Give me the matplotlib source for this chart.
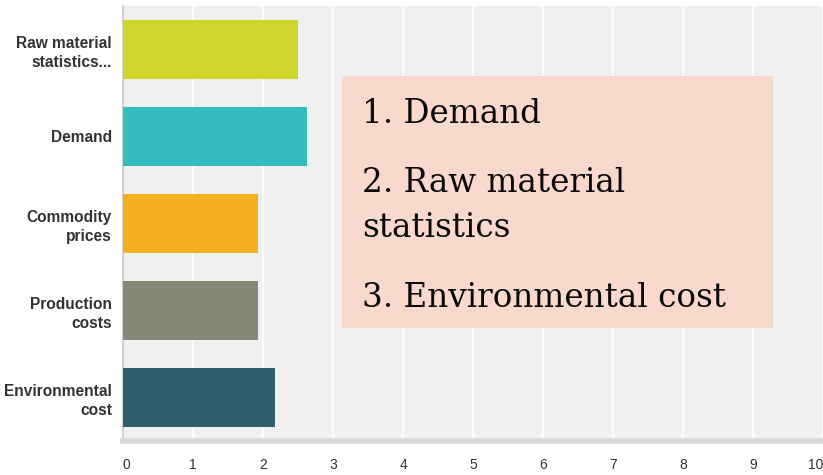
import matplotlib.pyplot as plt
from matplotlib.patches import Rectangle

categories = ["Raw material\nstatistics...", "Demand", "Commodity\nprices",
              "Production\ncosts", "Environmental\ncost"]
values = [2.50, 2.63, 1.93, 1.93, 2.17]
colors = ["#cfd629", "#33bdbf", "#f6ae21", "#878878", "#2f5d6b"]
x_ticks = list(range(0, 11))
ranking = ["1. Demand", "2. Raw material", "statistics", "3. Environmental cost"]

W, H = 823, 475
fig = plt.figure(figsize=(W / 100, H / 100), dpi=100)
ax = fig.add_axes([123 / W, 1 - 441 / H, 1 - 123 / W, (441 - 6) / H])
ax.set_facecolor("#f0f0f0")

ypos = list(range(len(categories)))
ax.barh(ypos, values, height=0.68, color=colors, zorder=3)
ax.set_ylim(len(categories) - 0.5, -0.5)
ax.set_xlim(0, 10)

ax.set_xticks(x_ticks)
xlabels = ax.set_xticklabels([str(t) for t in x_ticks], fontfamily="Liberation Sans",
                             fontsize=10, color="#333333")
xlabels[0].set_ha("left")
xlabels[-1].set_ha("right")
ax.set_yticks(ypos)
ax.set_yticklabels(categories, fontfamily="Liberation Sans", fontsize=11.2,
                   fontweight="bold", color="#333333", linespacing=1.3)
ax.tick_params(axis="x", length=0, pad=12)
ax.tick_params(axis="y", length=0, pad=8)
ax.grid(axis="x", color="white", linewidth=1.2, zorder=0)
ax.set_axisbelow(True)

for s in ["top", "right"]:
    ax.spines[s].set_visible(False)
ax.spines["left"].set_color("#c8c8c8")
ax.spines["left"].set_linewidth(1.2)
ax.spines["bottom"].set_color("#d9d9d9")
ax.spines["bottom"].set_linewidth(4)

# ranking summary box
box = Rectangle((342 / W, 1 - 328 / H), (773 - 342) / W, (328 - 76) / H,
                transform=fig.transFigure, facecolor="#f8d9cc", edgecolor="none",
                zorder=5)
fig.patches.append(box)
baselines = [123, 192, 237, 307]
for txt, yb in zip(ranking, baselines):
    fig.text(362 / W, 1 - yb / H, txt, fontfamily="DejaVu Serif",
             fontsize=23.5, color="#0a0a0a", va="baseline", zorder=6)

fig.savefig("out.png", dpi=100)
